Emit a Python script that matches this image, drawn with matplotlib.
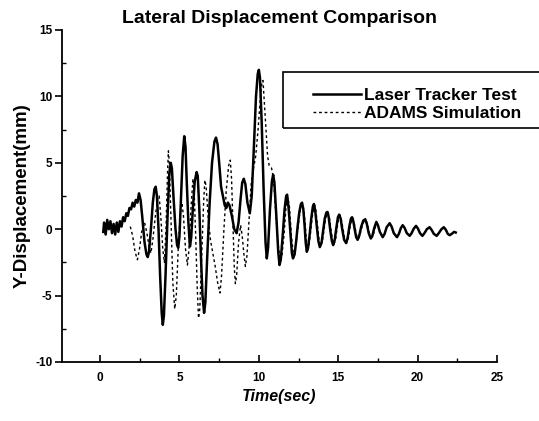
import matplotlib
matplotlib.use("Agg")
import matplotlib.pyplot as plt
from matplotlib.ticker import MultipleLocator
from matplotlib.patches import Rectangle

plt.rcParams['font.family'] = ['Liberation Sans', 'DejaVu Sans']
plt.rcParams['axes.unicode_minus'] = False

# Laser tracker test (t in s, y in mm)
t_test = [0.20, 0.25, 0.35, 0.45, 0.55, 0.65, 0.75, 0.85, 0.95, 1.05, 1.15, 1.25,
          1.35, 1.45, 1.55, 1.65, 1.75, 1.85, 1.95, 2.05, 2.15, 2.25, 2.35, 2.45,
          2.55, 2.65, 2.80, 2.92, 3.00, 3.08, 3.20, 3.32, 3.42, 3.50, 3.58, 3.68,
          3.78, 3.88, 3.95, 4.02, 4.12, 4.25, 4.36, 4.45, 4.52, 4.62, 4.75, 4.85,
          4.92, 5.00, 5.10, 5.20, 5.30, 5.38, 5.46, 5.56, 5.66, 5.74, 5.84, 5.96,
          6.08, 6.15, 6.25, 6.35, 6.45, 6.55, 6.63, 6.75, 6.90, 7.05, 7.20, 7.30,
          7.40, 7.50, 7.62, 7.75, 7.85, 7.95, 8.05, 8.15, 8.30, 8.45, 8.60, 8.72,
          8.85, 8.95, 9.05, 9.15, 9.28, 9.43, 9.55, 9.68, 9.82, 9.93, 10.00, 10.07,
          10.18, 10.30, 10.42, 10.50, 10.58, 10.70, 10.82, 10.90, 10.98, 11.10,
          11.22, 11.30, 11.38, 11.50, 11.62, 11.72, 11.78, 11.88, 12.00, 12.08,
          12.15, 12.25, 12.35, 12.45, 12.55, 12.65, 12.72, 12.80, 12.88, 12.95,
          13.02, 13.10, 13.20, 13.30, 13.40, 13.47, 13.55, 13.65, 13.75, 13.84,
          13.95, 14.05, 14.15, 14.25, 14.32, 14.40, 14.50, 14.60, 14.68, 14.78,
          14.88, 14.98, 15.06, 15.15, 15.25, 15.37, 15.50, 15.60, 15.70, 15.80,
          15.87, 15.95, 16.05, 16.13, 16.22, 16.32, 16.45, 16.58, 16.70, 16.80,
          16.92, 17.05, 17.15, 17.27, 17.40, 17.50, 17.62, 17.80, 17.92, 18.05,
          18.24, 18.36, 18.50, 18.70, 18.82, 18.95, 19.06, 19.18, 19.32, 19.50,
          19.62, 19.76, 19.90, 20.02, 20.15, 20.30, 20.43, 20.58, 20.75, 20.88,
          21.02, 21.20, 21.33, 21.50, 21.65, 21.78, 21.90, 22.02, 22.15, 22.30, 22.40]
y_test = [-0.2, 0.5, -0.4, 0.7, 0.0, 0.6, -0.3, 0.4, -0.4, 0.5, -0.2, 0.6,
          0.2, 0.9, 0.6, 1.2, 1.0, 1.6, 1.5, 2.0, 1.7, 2.2, 2.0, 2.7,
          2.2, 1.0, -1.0, -1.9, -2.1, -1.7, 0.0, 2.0, 3.0, 3.2, 2.5, 0.0,
          -3.5, -6.3, -7.2, -6.5, -3.5, 1.0, 4.2, 5.0, 4.6, 2.5, 0.0, -1.2,
          -1.4, -0.5, 2.5, 5.5, 7.0, 6.2, 3.5, 0.5, -1.3, -0.6, 1.5, 3.6,
          4.3, 4.0, 1.5, -2.0, -5.0, -6.3, -5.5, -2.0, 2.0, 5.0, 6.6, 6.9,
          6.4, 5.0, 3.2, 2.4, 1.8, 1.6, 2.0, 1.8, 1.0, 0.0, -0.3, 0.5,
          2.3, 3.5, 3.8, 3.4, 2.0, 1.2, 2.5, 6.0, 10.0, 11.7, 12.0, 11.4,
          8.0, 3.0, -1.0, -2.2, -1.4, 1.5, 3.6, 4.1, 3.5, 1.0,
          -1.7, -2.7, -2.3, -0.5, 1.5, 2.5, 2.6, 1.5, -0.5, -1.8,
          -2.2, -1.9, -0.9, 0.3, 1.3, 1.9, 2.0, 1.5, 0.3, -1.0,
          -1.7, -1.4, -0.4, 0.8, 1.7, 1.9, 1.4, 0.2, -0.9, -1.35,
          -1.0, -0.1, 0.8, 1.25, 1.3, 0.9, -0.1, -0.9, -1.2, -0.8,
          0.1, 0.9, 1.1, 0.8, 0.0, -0.8, -1.05, -0.6, 0.2, 0.8,
          0.9, 0.6, -0.1, -0.6, -0.8, -0.5, 0.2, 0.65, 0.75, 0.4,
          -0.3, -0.7, -0.5, 0.1, 0.55, 0.3, -0.2, -0.6, -0.35, 0.15,
          0.45, 0.2, -0.3, -0.6, -0.35, 0.1, 0.3, 0.1, -0.3, -0.5,
          -0.3, 0.05, 0.25, 0.05, -0.3, -0.5, -0.3, 0.0, 0.15, -0.05,
          -0.35, -0.5, -0.3, 0.0, 0.15, -0.05, -0.35, -0.45, -0.35, -0.2, -0.25]

# ADAMS simulation
t_sim = [1.90, 2.05, 2.20, 2.35, 2.48, 2.62, 2.80, 2.95, 3.10, 3.20, 3.32, 3.50,
         3.65, 3.72, 3.82, 3.95, 4.05, 4.15, 4.24, 4.30, 4.36, 4.46, 4.58, 4.70,
         4.80, 4.92, 5.05, 5.15, 5.25, 5.38, 5.50, 5.60, 5.72, 5.85, 5.92, 6.02,
         6.12, 6.20, 6.28, 6.40, 6.52, 6.60, 6.68, 6.80, 6.95, 7.10, 7.25, 7.40,
         7.55, 7.65, 7.80, 7.95, 8.10, 8.20, 8.28, 8.38, 8.45, 8.52, 8.60, 8.72,
         8.85, 8.95, 9.05, 9.15, 9.25, 9.40, 9.52, 9.65, 9.80, 9.95, 10.10, 10.20,
         10.26, 10.35, 10.45, 10.55, 10.65, 10.80, 10.92, 11.05, 11.20, 11.35,
         11.45, 11.58, 11.70, 11.82, 11.92, 12.05, 12.15, 12.22, 12.30, 12.42,
         12.55, 12.65, 12.75, 12.84, 12.92, 13.00, 13.07, 13.15, 13.25, 13.35,
         13.45, 13.52, 13.60, 13.70, 13.80, 13.90, 14.00, 14.10, 14.20, 14.30,
         14.37, 14.45, 14.55, 14.65, 14.73, 14.83, 14.93, 15.03, 15.11, 15.20,
         15.30, 15.42, 15.55, 15.65, 15.75, 15.85, 15.92, 16.00, 16.10, 16.18,
         16.26, 16.36, 16.50, 16.62, 16.74, 16.84, 16.96, 17.09, 17.20, 17.32, 17.44]
y_sim = [0.2, -0.5, -1.7, -2.3, -1.5, -0.2, 0.5, -0.3, -1.4, -1.8, -0.8, 1.2,
         2.4, 2.5, 1.0, -1.5, -2.5, 0.0, 4.0, 5.9, 5.0, 1.0, -4.0, -6.0,
         -5.0, -1.5, 1.2, 2.0, 1.0, -1.5, -2.7, -1.5, 1.5, 3.8, 3.0, -0.5,
         -4.5, -6.7, -6.0, -2.0, 2.0, 3.7, 3.2, 1.0, -0.8, -1.8, -2.8, -4.0,
         -4.8, -3.5, 0.0, 3.0, 4.8, 5.2, 3.8, 0.0, -2.8, -4.1, -3.5, -1.0,
         0.3, -0.5, -1.8, -2.8, -2.0, 1.0, 3.5, 4.5, 5.5, 7.5, 10.0, 11.1,
         11.2, 9.5, 7.5, 5.5, 4.8, 4.6, 3.8, 1.5, -1.0, -2.4,
         -2.0, -0.5, 1.5, 2.4, 1.8, -0.5, -1.6, -2.0, -1.5, -0.3,
         1.0, 1.7, 1.9, 1.4, 0.3, -0.9, -1.6, -1.3, -0.3, 0.8,
         1.6, 1.8, 1.3, 0.2, -0.9, -1.3, -0.9, -0.1, 0.8, 1.2,
         1.25, 0.8, -0.1, -0.9, -1.15, -0.8, 0.1, 0.9, 1.05, 0.7,
         0.0, -0.8, -1.0, -0.6, 0.2, 0.75, 0.85, 0.5, -0.1, -0.6,
         -0.75, -0.45, 0.2, 0.6, 0.7, 0.35, -0.3, -0.65, -0.45, 0.1, 0.5]

fig = plt.figure(figsize=(5.39, 4.21), dpi=100)
ax = fig.add_axes([62/539, 59/421, 435/539, 332/421])

ax.plot(t_test, y_test, color='black', lw=1.8, label='Laser Tracker Test')
ax.plot(t_sim, y_sim, color='black', lw=1.0, linestyle=(0, (2, 2)), label='ADAMS Simulation')

ax.set_xlim(-2.4, 25)
ax.set_ylim(-10, 15)
ax.spines['top'].set_visible(False)
ax.spines['right'].set_visible(False)
ax.spines['left'].set_linewidth(1.3)
ax.spines['bottom'].set_linewidth(1.3)

ax.xaxis.set_major_locator(MultipleLocator(5))
ax.xaxis.set_minor_locator(MultipleLocator(2.5))
ax.yaxis.set_major_locator(MultipleLocator(5))
ax.yaxis.set_minor_locator(MultipleLocator(2.5))
ax.tick_params(axis='x', which='major', direction='in', length=5, width=1.2, pad=7)
ax.tick_params(axis='x', which='minor', direction='in', length=3, width=1.0)
ax.tick_params(axis='y', which='major', direction='out', length=5, width=1.2, pad=2)
ax.tick_params(axis='y', which='minor', direction='in', length=3, width=1.0)
for lab in ax.get_xticklabels() + ax.get_yticklabels():
    lab.set_fontweight('bold')
    lab.set_fontsize(8.5)

ax.set_title('Lateral Displacement Comparison', fontsize=14, fontweight='bold', pad=5)
ax.set_xlabel('Time(sec)', fontsize=11.5, fontweight='bold', style='italic', labelpad=4)
ax.set_ylabel('Y-Displacement(mm)', fontsize=13.5, fontweight='bold', labelpad=3)

# legend box (runs past the right edge as in the original)
fig.add_artist(Rectangle((283/539, (421-128)/421), 262/539, 56/421,
                         transform=fig.transFigure, fill=False, lw=1.2, edgecolor='black'))
ax.legend(loc='upper left', bbox_to_anchor=(304/539, (421-79)/421),
          bbox_transform=fig.transFigure, frameon=False, borderpad=0,
          handlelength=2.8, handletextpad=0.15, labelspacing=0.2,
          prop={'weight': 'bold', 'size': 12.5})

fig.savefig('out.png', dpi=100)
